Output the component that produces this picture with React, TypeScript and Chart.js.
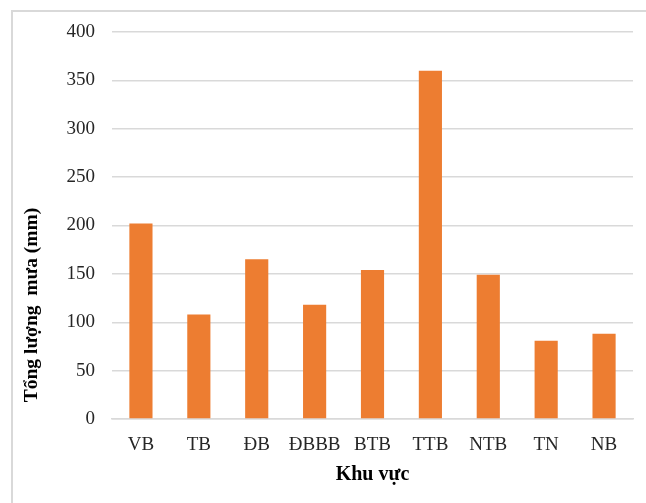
import React, { useEffect, useRef } from "react";
import { Chart, registerables } from "chart.js";

Chart.register(...registerables);

const categories = ["VB", "TB", "ĐB", "ĐBBB", "BTB", "TTB", "NTB", "TN", "NB"];
const rainfall = [202, 108, 165, 118, 154, 360, 149, 81, 88];
const yTicks = [0, 50, 100, 150, 200, 250, 300, 350, 400];
const yTitle = "Tổng lượng  mưa (mm)";
const xTitle = "Khu vực";

const FONT = "'Liberation Serif', 'Times New Roman', serif";

const yTitlePlugin = {
  id: "yTitlePlugin",
  afterDraw(chart: any) {
    const ctx = chart.ctx;
    ctx.save();
    ctx.translate(37, 305);
    ctx.rotate(-Math.PI / 2);
    ctx.font = `bold 19.5px ${FONT}`;
    ctx.fillStyle = "#000";
    ctx.textAlign = "center";
    ctx.textBaseline = "alphabetic";
    ctx.fillText(yTitle, 0, 0);
    ctx.restore();
  },
};

export default function App() {
  const ref = useRef<HTMLCanvasElement | null>(null);

  useEffect(() => {
    if (!ref.current) return;
    const chart = new Chart(ref.current, {
      type: "bar",
      data: {
        labels: categories,
        datasets: [
          {
            data: rainfall,
            backgroundColor: "#ED7D31",
            borderWidth: 0,
            categoryPercentage: 0.8,
            barPercentage: 0.5,
          },
        ],
      },
      plugins: [yTitlePlugin],
      options: {
        animation: false,
        responsive: false,
        maintainAspectRatio: false,
        layout: { padding: { left: 22, right: 13, top: 32, bottom: 16 } },
        plugins: { legend: { display: false }, tooltip: { enabled: false } },
        scales: {
          x: {
            grid: { display: false },
            border: { display: true, color: "#d9d9d9", width: 1.5 },
            ticks: { color: "#262626", font: { family: FONT, size: 19 }, padding: 7 },
            title: {
              display: true,
              text: xTitle,
              color: "#000",
              font: { family: FONT, size: 20, weight: "bold" },
              padding: 0,
            },
            afterFit: (s: any) => {
              s.height = 68;
            },
          },
          y: {
            min: 0,
            max: 400,
            afterBuildTicks: (s: any) => {
              s.ticks = yTicks.map((v) => ({ value: v }));
            },
            grid: { color: "#d9d9d9", lineWidth: 1.5, drawTicks: false },
            border: { display: false },
            ticks: { color: "#262626", font: { family: FONT, size: 19 }, padding: 17 },
            title: { display: false },
            afterFit: (s: any) => {
              s.width = 90;
            },
          },
        },
      },
    });
    return () => chart.destroy();
  }, []);

  return (
    <div style={{ position: "absolute", left: 0, top: 0, width: 646, height: 503, background: "#fff", overflow: "hidden" }}>
      <div
        style={{
          position: "absolute",
          left: 11,
          top: 10,
          width: 700,
          height: 600,
          borderLeft: "2px solid #d9d9d9",
          borderTop: "2px solid #d9d9d9",
        }}
      />
      <canvas ref={ref} width={646} height={503} style={{ position: "absolute", left: 0, top: 0 }} />
    </div>
  );
}
